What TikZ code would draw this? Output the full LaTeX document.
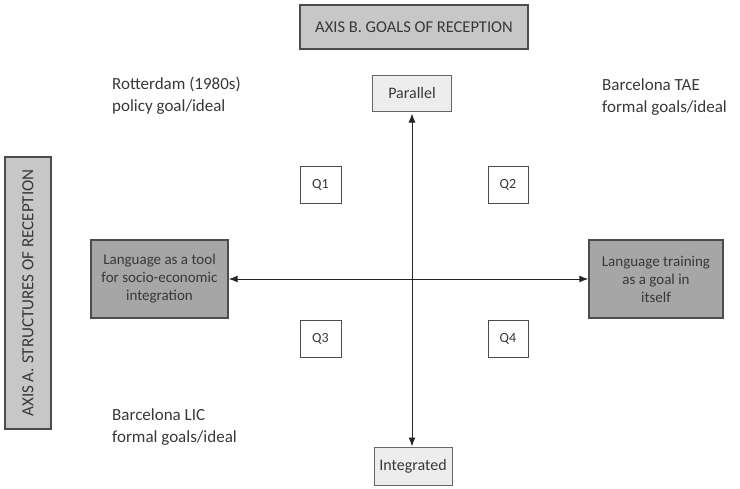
\documentclass[tikz,border=0pt]{standalone}
\usepackage{fontspec}
\setmainfont{Carlito}
\usetikzlibrary{arrows.meta}
\definecolor{txt}{HTML}{383838}
\tikzset{
  axisbox/.style={draw=black!70, line width=1.4pt, fill=black!22, inner sep=0pt, text=txt},
  mainbox/.style={draw=black!70, line width=1.4pt, fill=black!35, inner sep=0pt, text=txt, align=center, font=\fontsize{15}{18}\selectfont},
  endbox/.style={draw=black!60, line width=1pt, fill=black!7, inner sep=0pt, text=txt, font=\fontsize{16}{18}\selectfont},
  qbox/.style={draw=black!70, line width=0.9pt, fill=white, inner sep=0pt, text=txt, font=\fontsize{14}{16}\selectfont},
  note/.style={text=txt, align=left, anchor=north west, inner sep=0pt, font=\fontsize{17}{22}\selectfont},
  axisarrow/.style={{Latex[length=9pt,width=7pt]}-{Latex[length=9pt,width=7pt]}, line width=1pt, black!85}
}
\begin{document}
\begin{tikzpicture}[x=1pt,y=-1pt]
\useasboundingbox (0,0) rectangle (740,488);
\node[axisbox, minimum width=228pt, minimum height=44pt, font=\fontsize{16.5}{18}\selectfont] (axisB) at (414,27) {AXIS B. GOALS OF RECEPTION};
\node[axisbox, minimum width=272pt, minimum height=46pt, rotate=90, font=\fontsize{17}{18}\selectfont] (axisA) at (28,293) {AXIS A. STRUCTURES OF RECEPTION};
\node[endbox, minimum width=79pt, minimum height=36pt] (par) at (412,93) {Parallel};
\node[endbox, minimum width=78pt, minimum height=38pt] (int) at (413,466) {Integrated};
\node[mainbox, minimum width=137pt, minimum height=78pt] (left) at (159.5,279) {Language as a tool\\for socio-economic\\integration};
\node[mainbox, minimum width=134pt, minimum height=78pt] (right) at (656,279) {Language training\\as a goal in\\itself};
\node[qbox, minimum width=41pt, minimum height=37pt] (q1) at (320.5,185) {Q1};
\node[qbox, minimum width=40pt, minimum height=37pt] (q2) at (508,185) {Q2};
\node[qbox, minimum width=41pt, minimum height=37pt] (q3) at (320.5,339) {Q3};
\node[qbox, minimum width=40pt, minimum height=37pt] (q4) at (508,339) {Q4};
\node[note] (rot) at (112,77) {Rotterdam (1980s)\\policy goal/ideal};
\node[note] (tae) at (602,78) {Barcelona TAE\\formal goals/ideal};
\node[note] (lic) at (112,408) {Barcelona LIC\\formal goals/ideal};
\draw[axisarrow] (par.south) ++(0,2) coordinate (ptop) -- (ptop |- int.north);
\draw[axisarrow] (left.east) -- (right.west);
\end{tikzpicture}
\end{document}
